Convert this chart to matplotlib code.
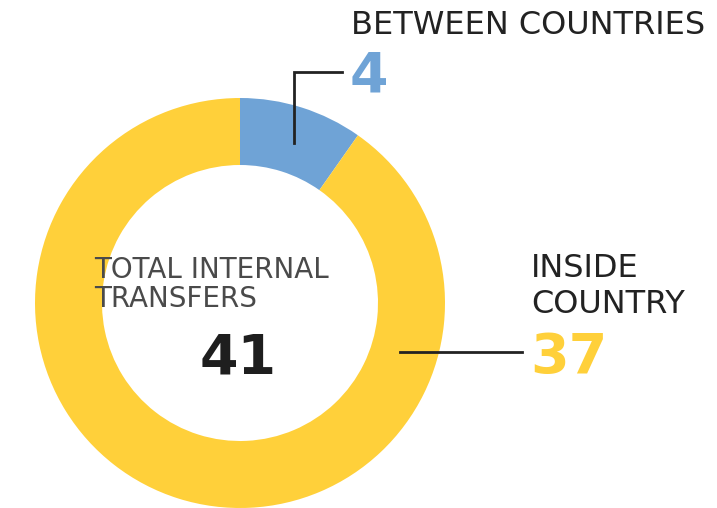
import matplotlib.pyplot as plt

labels = ["BETWEEN COUNTRIES", "INSIDE COUNTRY"]
values = [4, 37]
total = sum(values)
colors = ["#6FA3D6", "#FFD03A"]

H = 508
fig = plt.figure(figsize=(7.17, 5.08), dpi=100)
ax = fig.add_axes([0, 0, 1, 1])
ax.set_xlim(0, 717)
ax.set_ylim(0, H)
ax.set_aspect("equal")
ax.axis("off")

# donut, measured in pixels (y flipped so the origin sits at the bottom)
ax.pie(values, colors=colors, startangle=90, counterclock=False,
       center=(240, H - 303), radius=205,
       wedgeprops=dict(width=67, linewidth=0))
ax.set_xlim(0, 717)
ax.set_ylim(0, H)

dark = "#222222"
font = "DejaVu Sans"

# leader lines
ax.plot([294, 294, 342], [H - 143, H - 72, H - 72], color=dark, lw=2,
        solid_joinstyle="miter")
ax.plot([400, 522], [H - 352, H - 352], color=dark, lw=2)

ax.text(351, H - 34, labels[0], fontsize=23, color=dark, family=font,
        ha="left", va="baseline")
ax.text(350, H - 91, str(values[0]), fontsize=40, color=colors[0],
        family=font, weight="bold", ha="left", va="baseline")

ax.text(531, H - 277, "INSIDE", fontsize=23, color=dark, family=font,
        ha="left", va="baseline")
ax.text(531, H - 313, "COUNTRY", fontsize=23, color=dark, family=font,
        ha="left", va="baseline")
ax.text(530, H - 373, str(values[1]), fontsize=40, color=colors[1],
        family=font, weight="bold", ha="left", va="baseline")

ax.text(94, H - 278, "TOTAL INTERNAL", fontsize=20, color="#4a4a4a",
        family=font, ha="left", va="baseline")
ax.text(94, H - 307, "TRANSFERS", fontsize=20, color="#4a4a4a",
        family=font, ha="left", va="baseline")
ax.text(238, H - 373, str(total), fontsize=40, color="#1e1e1e",
        family=font, weight="bold", ha="center", va="baseline")

fig.savefig("out.png", dpi=100)
